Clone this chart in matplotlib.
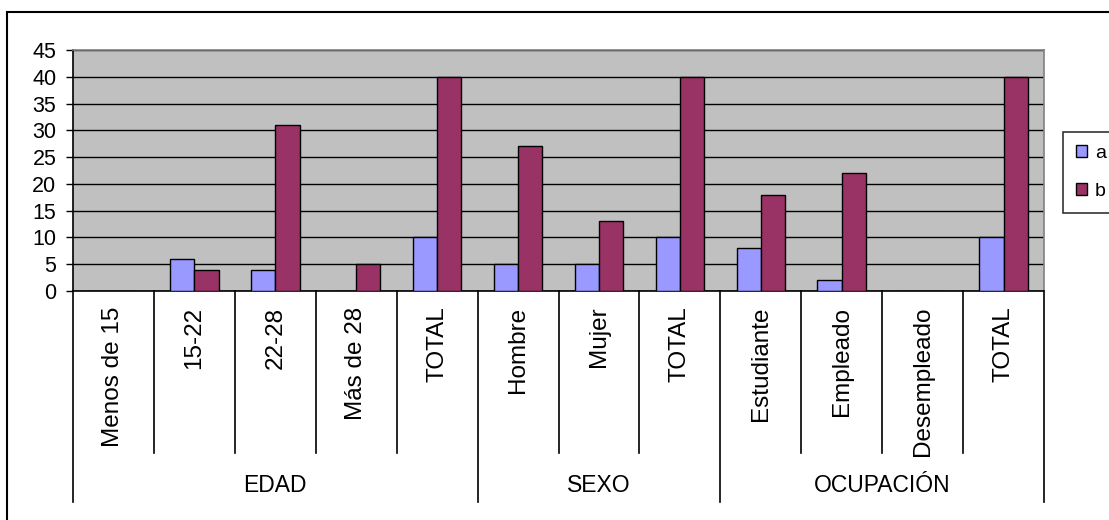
import numpy as np
import matplotlib.pyplot as plt
import matplotlib.patches as patches
import matplotlib.transforms as mtransforms

plt.rcParams['font.family'] = ['Liberation Sans', 'DejaVu Sans']

# data
categories = ['Menos de 15', '15-22', '22-28', 'Más de 28', 'TOTAL',
              'Hombre', 'Mujer', 'TOTAL',
              'Estudiante', 'Empleado', 'Desempleado', 'TOTAL']
groups = ['EDAD', 'SEXO', 'OCUPACIÓN']
group_sizes = [5, 3, 4]
serie_a = [0, 6, 4, 0, 10, 5, 5, 10, 8, 2, 0, 10]
serie_b = [0, 4, 31, 5, 40, 27, 13, 40, 18, 22, 0, 40]
yticks = [0, 5, 10, 15, 20, 25, 30, 35, 40, 45]

col_a = '#9999FF'
col_b = '#993366'

fig = plt.figure(figsize=(11.09, 5.20), dpi=100)
ax = fig.add_axes([73/1109, 1-291/520, (1044-73)/1109, (291-50)/520])
ax.set_facecolor('#C0C0C0')

n = len(categories)
x = np.arange(n)
w = 0.3
ax.bar(x - w/2, serie_a, w, color=col_a, edgecolor='black', linewidth=1, zorder=3)
ax.bar(x + w/2, serie_b, w, color=col_b, edgecolor='black', linewidth=1, zorder=3)

ax.set_xlim(-0.5, n - 0.5)
ax.set_ylim(0, 45)
ax.set_yticks(yticks)
ax.set_yticklabels([str(v) for v in yticks], fontsize=15.5)
ax.tick_params(axis='y', direction='out', length=5, width=1, pad=7)
ax.set_xticks([])
ax.yaxis.grid(True, color='black', linewidth=1, zorder=1)
ax.set_axisbelow(True)

ax.spines['left'].set_color('black')
ax.spines['bottom'].set_color('black')
ax.spines['top'].set_color('#808080')
ax.spines['right'].set_color('#808080')
for s in ax.spines.values():
    s.set_linewidth(1.2)

# multi-level category axis below the plot
trans = mtransforms.blended_transform_factory(ax.transData, ax.transAxes)
inner_bottom = -(453-291)/241
outer_bottom = -(502-291)/241
group_edges = np.cumsum([0] + group_sizes)
for i in range(n + 1):
    y1 = outer_bottom if i in group_edges else inner_bottom
    ax.plot([i - 0.5, i - 0.5], [0, y1], transform=trans, color='black',
            linewidth=1.2, clip_on=False)
for i, lab in enumerate(categories):
    ax.text(i, -0.065, lab, transform=trans, rotation=90, ha='center', va='top',
            fontsize=17.5)
for g, lab in enumerate(groups):
    mid = (group_edges[g] + group_edges[g+1]) / 2 - 0.5
    ax.text(mid, -(485-291)/241, lab, transform=trans, ha='center', va='center',
            fontsize=16.5)

# outer chart border
fig.patches.append(patches.Rectangle((7/1109, -0.1), 1.2, 1-12/520+0.1,
                                     transform=fig.transFigure, fill=False,
                                     edgecolor='black', linewidth=1.5))

handles = [patches.Patch(facecolor=col_a, edgecolor='black', linewidth=1),
           patches.Patch(facecolor=col_b, edgecolor='black', linewidth=1)]
leg = fig.legend(handles, ['a', 'b'], loc='upper left',
                 bbox_to_anchor=(1063/1109, 1-132/520), fontsize=14,
                 frameon=True, fancybox=False, edgecolor='black',
                 handlelength=0.6, handleheight=0.6, handletextpad=0.4,
                 labelspacing=1.1, borderpad=0.65, borderaxespad=0)
leg.get_frame().set_linewidth(1.2)

fig.savefig('out.png', dpi=100)
